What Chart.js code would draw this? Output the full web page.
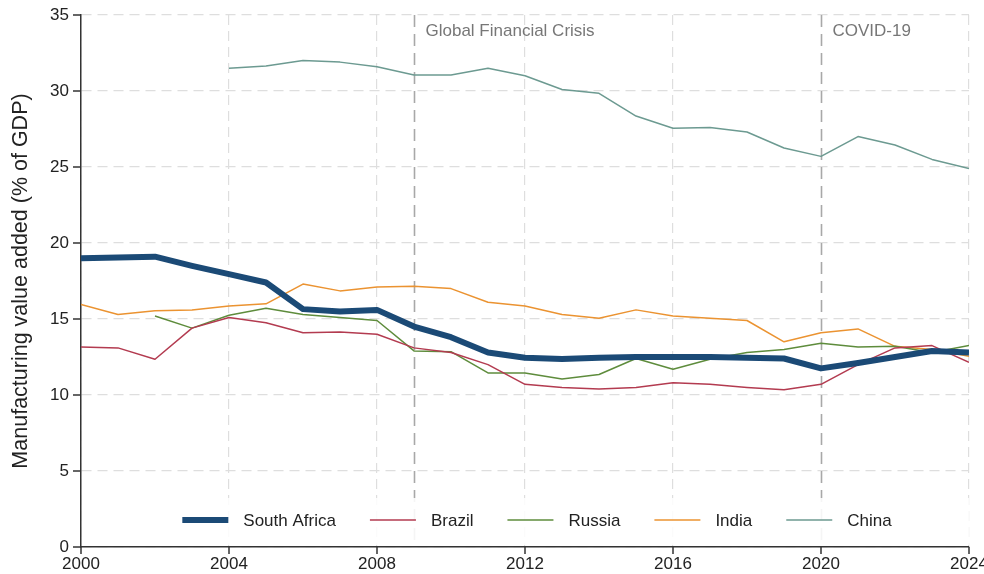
<!DOCTYPE html>
<html>
<head>
<meta charset="utf-8">
<script src="https://cdn.jsdelivr.net/npm/chart.js@4.4.1/dist/chart.umd.min.js"></script>
<style>
    html, body { margin: 0; padding: 0; background: #fff; }
    #wrap { width: 984px; height: 574px; }
</style>
</head>
<body>
<div id="wrap"><canvas id="mva-chart" width="984" height="574"></canvas></div>
<script>
// years
const years = [2000, 2001, 2002, 2003, 2004, 2005, 2006, 2007, 2008, 2009, 2010, 2011, 2012,
    2013, 2014, 2015, 2016, 2017, 2018, 2019, 2020, 2021, 2022, 2023, 2024];

// manufacturing value added, % of GDP
const southAfrica = [19.0, 19.05, 19.1, 18.5, 17.95, 17.4, 15.65, 15.5, 15.6, 14.5, 13.8, 12.8, 12.45,
    12.37, 12.45, 12.5, 12.5, 12.5, 12.45, 12.4, 11.75, 12.1, 12.5, 12.9, 12.8];
const brazil = [13.15, 13.1, 12.35, 14.4, 15.1, 14.75, 14.1, 14.15, 14.0, 13.1, 12.8, 12.0, 10.7,
    10.5, 10.4, 10.5, 10.8, 10.7, 10.5, 10.35, 10.7, 12.0, 13.1, 13.25, 12.15];
const russia = [null, null, 15.2, 14.4, 15.25, 15.7, 15.3, 15.1, 14.9, 12.9, 12.85, 11.45, 11.45,
    11.05, 11.35, 12.4, 11.7, 12.35, 12.8, 13.0, 13.4, 13.15, 13.2, 12.8, 13.25];
const india = [15.95, 15.3, 15.55, 15.6, 15.85, 16.0, 17.3, 16.85, 17.1, 17.15, 17.0, 16.1, 15.85,
    15.3, 15.05, 15.6, 15.2, 15.05, 14.9, 13.5, 14.1, 14.35, 13.2, 13.0, 12.55];
const china = [null, null, null, null, 31.5, 31.65, 32.0, 31.9, 31.6, 31.05, 31.05, 31.5, 31.0,
    30.1, 29.85, 28.35, 27.55, 27.6, 27.3, 26.25, 25.7, 27.0, 26.45, 25.5, 24.9];

// event markers
const eventYears = [2009, 2020];
const eventLabels = ['Global Financial Crisis', 'COVID-19'];

const FONT = '"Liberation Sans", Arial, Helvetica, sans-serif';

function toPoints(values) {
    return years.map((yr, i) => ({ x: yr, y: values[i] }));
}

// 事件竖线 + 图例（在绘图区内）
const overlayPlugin = {
    id: 'overlay',
    beforeDatasetsDraw(chart) {
        const ctx = chart.ctx;
        const area = chart.chartArea;
        const xs = chart.scales.x;

        // event lines
        ctx.save();
        ctx.strokeStyle = '#a8a8a8';
        ctx.lineWidth = 1.6;
        ctx.setLineDash([12, 7]);
        eventYears.forEach((yr, i) => {
            const px = Math.round(xs.getPixelForValue(yr)) + 0.5;
            ctx.beginPath();
            ctx.moveTo(px, area.top);
            ctx.lineTo(px, area.bottom);
            ctx.stroke();
            ctx.fillStyle = '#777';
            ctx.font = '17px ' + FONT;
            ctx.textAlign = 'left';
            ctx.textBaseline = 'middle';
            ctx.fillText(eventLabels[i], px + 11, area.top + 16);
        });
        ctx.restore();

        // legend background
        ctx.save();
        ctx.fillStyle = 'rgba(255,255,255,0.88)';
        ctx.fillRect(area.left + 1, 498, area.right - area.left - 1, 47);
        ctx.restore();
    },
    afterDatasetsDraw(chart) {
        const ctx = chart.ctx;
        const area = chart.chartArea;
        const sets = chart.data.datasets;
        const lineLen = 46, textGap = 15, itemGap = 34, yMid = 520;

        ctx.save();
        ctx.font = '17px ' + FONT;
        ctx.textBaseline = 'middle';
        ctx.textAlign = 'left';

        const widths = sets.map(ds => lineLen + textGap + ctx.measureText(ds.label).width);
        const total = widths.reduce((a, b) => a + b, 0) + itemGap * (sets.length - 1);
        let x = (area.left + area.right) / 2 + 12 - total / 2;

        sets.forEach((ds, i) => {
            ctx.strokeStyle = ds.borderColor;
            ctx.lineWidth = ds.borderWidth;
            ctx.setLineDash([]);
            ctx.beginPath();
            ctx.moveTo(x, yMid);
            ctx.lineTo(x + lineLen, yMid);
            ctx.stroke();
            ctx.fillStyle = '#222';
            ctx.fillText(ds.label, x + lineLen + textGap, yMid + 1);
            x += widths[i] + itemGap;
        });
        ctx.restore();
    }
};

// 外侧刻度线
const tickPlugin = {
    id: 'ticksOut',
    afterDraw(chart) {
        const ctx = chart.ctx;
        const area = chart.chartArea;
        const xs = chart.scales.x, ys = chart.scales.y;
        ctx.save();
        ctx.strokeStyle = '#333';
        ctx.lineWidth = 1.5;
        xs.ticks.forEach(t => {
            const px = xs.getPixelForValue(t.value);
            ctx.beginPath();
            ctx.moveTo(px, area.bottom);
            ctx.lineTo(px, area.bottom + 7);
            ctx.stroke();
        });
        ys.ticks.forEach(t => {
            const py = ys.getPixelForValue(t.value);
            ctx.beginPath();
            ctx.moveTo(area.left, py);
            ctx.lineTo(area.left - 8, py);
            ctx.stroke();
        });
        ctx.restore();
    }
};

function createMvaChart() {
    const canvas = document.getElementById('mva-chart');

    if (window.mvaChart) {
        window.mvaChart.destroy();
    }

    const data = {
        datasets: [
            { label: 'South Africa', data: toPoints(southAfrica), borderColor: '#1b4a76', borderWidth: 6 },
            { label: 'Brazil', data: toPoints(brazil), borderColor: '#b33b50', borderWidth: 1.5 },
            { label: 'Russia', data: toPoints(russia), borderColor: '#5e8c3c', borderWidth: 1.5 },
            { label: 'India', data: toPoints(india), borderColor: '#eb9331', borderWidth: 1.5 },
            { label: 'China', data: toPoints(china), borderColor: '#6c9a91', borderWidth: 1.5 }
        ]
    };

    const options = {
        responsive: false,
        animation: false,
        layout: { padding: { top: 15, right: 15, left: 0, bottom: 0 } },
        elements: {
            point: { radius: 0 },
            line: { tension: 0, borderJoinStyle: 'round', borderCapStyle: 'butt' }
        },
        scales: {
            x: {
                type: 'linear',
                min: 2000,
                max: 2024,
                afterFit: scale => {
                    scale.height = 27;
                    scale.paddingLeft = 0;
                    scale.paddingRight = 0;
                },
                border: { display: true, color: '#333', width: 1.5, dash: [10, 6] },
                grid: {
                    color: ctx => (ctx.tick && ctx.tick.value === 2020) ? 'rgba(0,0,0,0)' : '#dedede',
                    lineWidth: 1.2,
                    drawTicks: false
                },
                ticks: {
                    stepSize: 4,
                    padding: 7,
                    color: '#222',
                    font: { family: FONT, size: 17 },
                    callback: v => String(v)
                }
            },
            y: {
                min: 0,
                max: 35,
                afterFit: scale => {
                    scale.width = 81;
                    scale.paddingTop = 0;
                    scale.paddingBottom = 0;
                },
                border: { display: true, color: '#333', width: 1.5, dash: [10, 6] },
                grid: {
                    color: '#dedede',
                    lineWidth: 1.2,
                    drawTicks: false
                },
                ticks: {
                    stepSize: 5,
                    padding: 12,
                    color: '#222',
                    font: { family: FONT, size: 17 }
                },
                title: {
                    display: true,
                    text: 'Manufacturing value added (% of GDP)',
                    color: '#222',
                    font: { family: FONT, size: 21.5 },
                    padding: { top: 8, bottom: 0 }
                }
            }
        },
        plugins: {
            legend: { display: false },
            tooltip: { enabled: false },
            title: { display: false }
        }
    };

    window.mvaChart = new Chart(canvas, {
        type: 'line',
        data: data,
        options: options,
        plugins: [overlayPlugin, tickPlugin]
    });
}

createMvaChart();
</script>
</body>
</html>
